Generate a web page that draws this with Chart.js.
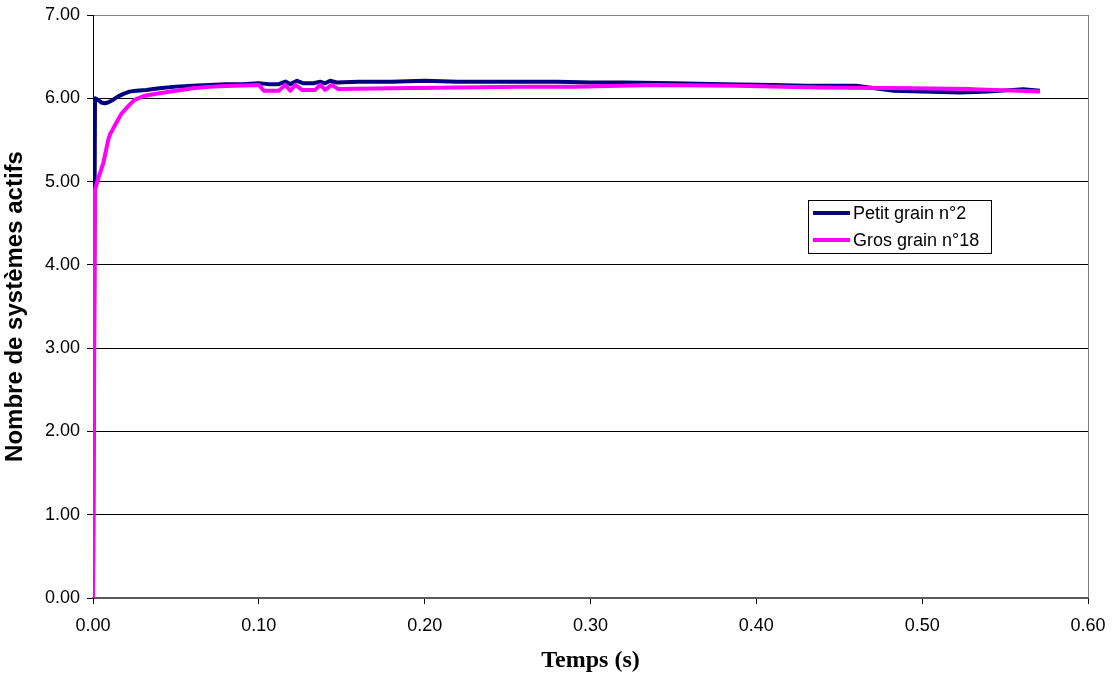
<!DOCTYPE html>
<html>
<head>
<meta charset="utf-8">
<script src="https://cdn.jsdelivr.net/npm/chart.js@4.4.1/dist/chart.umd.min.js"></script>
<style>
    html, body { margin: 0; padding: 0; background: #fff; }
    #wrap { width: 1112px; height: 677px; position: relative; }
</style>
</head>
<body>
<div id="wrap"><canvas id="grainChart"></canvas></div>
<script>
// Temps (s) / nombre de systemes actifs
const petitTemps = [0, 0.0012, 0.003, 0.005, 0.007, 0.009, 0.012, 0.015, 0.018, 0.022, 0.026, 0.032,
    0.04, 0.05, 0.06, 0.07, 0.08, 0.09, 0.1, 0.106, 0.112, 0.116, 0.119, 0.123, 0.127, 0.133,
    0.137, 0.14, 0.143, 0.147, 0.16, 0.18, 0.2, 0.22, 0.25, 0.28, 0.3, 0.32, 0.35, 0.38,
    0.41, 0.43, 0.46, 0.483, 0.5, 0.523, 0.54, 0.561, 0.571];
const petitSystemes = [0, 6.0, 5.98, 5.95, 5.94, 5.95, 5.98, 6.02, 6.05, 6.08, 6.09, 6.10,
    6.12, 6.14, 6.15, 6.16, 6.17, 6.17, 6.18, 6.17, 6.17, 6.20, 6.17, 6.21, 6.18, 6.18,
    6.20, 6.18, 6.21, 6.19, 6.20, 6.20, 6.21, 6.20, 6.20, 6.20, 6.19, 6.19, 6.18, 6.17,
    6.16, 6.15, 6.15, 6.09, 6.08, 6.07, 6.08, 6.11, 6.09];

const grosTemps = [0, 0.0012, 0.0032, 0.0062, 0.0092, 0.0105, 0.0113, 0.0125, 0.0173, 0.022,
    0.025, 0.031, 0.04, 0.05, 0.06, 0.072, 0.085, 0.1, 0.103, 0.112, 0.116, 0.119, 0.122,
    0.126, 0.134, 0.137, 0.14, 0.144, 0.148, 0.18, 0.22, 0.257, 0.29, 0.338, 0.388, 0.438,
    0.493, 0.53, 0.571];
const grosSystemes = [0, 4.9, 5.04, 5.22, 5.5, 5.58, 5.6, 5.65, 5.82, 5.92,
    5.98, 6.03, 6.06, 6.09, 6.12, 6.14, 6.15, 6.16, 6.09, 6.09, 6.16, 6.09, 6.16,
    6.10, 6.10, 6.16, 6.10, 6.16, 6.11, 6.12, 6.13, 6.14, 6.14, 6.16, 6.15, 6.13,
    6.12, 6.11, 6.08];

const seriesNames = ['Petit grain n°2', 'Gros grain n°18'];
const seriesColors = ['#000080', '#FF00FF'];

const tickFont = { family: "'Liberation Sans', Arial, sans-serif", size: 18 };

function toPoints(xs, ys) {
    return xs.map((x, i) => ({ x: x, y: ys[i] }));
}

// legend box drawn inside the plot, like the spreadsheet original
const boxLegend = {
    id: 'boxLegend',
    afterDraw(chart) {
        const c = chart.ctx;
        const x = 808, y = 200, w = 183, h = 53;
        c.save();
        c.fillStyle = '#fff';
        c.fillRect(x, y, w, h);
        c.strokeStyle = '#000';
        c.lineWidth = 1;
        c.strokeRect(x + 0.5, y + 0.5, w, h);
        c.font = "18px 'Liberation Sans', Arial, sans-serif";
        c.textBaseline = 'middle';
        chart.data.datasets.forEach((ds, i) => {
            const ly = y + 13 + i * 27;
            c.strokeStyle = ds.borderColor;
            c.lineWidth = 4;
            c.beginPath();
            c.moveTo(x + 5, ly);
            c.lineTo(x + 42, ly);
            c.stroke();
            c.fillStyle = '#000';
            c.fillText(ds.label, x + 45, ly + 1);
        });
        c.restore();
    }
};

new Chart(document.getElementById('grainChart').getContext('2d'), {
    type: 'line',
    data: {
        datasets: [{
            label: seriesNames[0],
            data: toPoints(petitTemps, petitSystemes),
            borderColor: seriesColors[0],
            backgroundColor: seriesColors[0],
            borderWidth: 4,
            pointRadius: 0,
            tension: 0,
            borderJoinStyle: 'round',
            order: 2
        }, {
            label: seriesNames[1],
            data: toPoints(grosTemps, grosSystemes),
            borderColor: seriesColors[1],
            backgroundColor: seriesColors[1],
            borderWidth: 4,
            pointRadius: 0,
            tension: 0,
            borderJoinStyle: 'round',
            order: 1
        }]
    },
    options: {
        responsive: true,
        maintainAspectRatio: false,
        animation: false,
        layout: { padding: { top: 15, right: 24, left: 0, bottom: 0 } },
        plugins: {
            legend: { display: false },
            tooltip: { enabled: false }
        },
        scales: {
            x: {
                type: 'linear',
                min: 0,
                max: 0.6,
                ticks: {
                    stepSize: 0.1,
                    color: '#000',
                    font: tickFont,
                    padding: 11,
                    maxRotation: 0,
                    callback: (v) => v.toFixed(2)
                },
                grid: {
                    color: (ctx) => Math.abs(ctx.tick.value - 0.6) < 1e-9 ? '#808080' : 'transparent',
                    tickColor: '#000',
                    tickLength: 6
                },
                border: { color: '#595959', width: 2 },
                title: {
                    display: true,
                    text: 'Temps (s)',
                    color: '#000',
                    font: { family: "'Liberation Serif', 'Times New Roman', serif", size: 24, weight: 'bold' },
                    padding: { top: 4, bottom: 2 }
                },
                afterFit: (scale) => {
                    scale.height = 79;
                    scale.paddingLeft = 0;
                    scale.paddingRight = 0;
                }
            },
            y: {
                min: 0,
                max: 7,
                ticks: {
                    stepSize: 1,
                    color: '#000',
                    font: tickFont,
                    padding: 7,
                    callback: (v) => v.toFixed(2)
                },
                grid: {
                    color: (ctx) => (ctx.tick.value === 7 ? '#808080' : (ctx.tick.value === 0 ? 'transparent' : '#000')),
                    tickColor: '#000',
                    tickLength: 6
                },
                border: { color: '#000', width: 1 },
                title: {
                    display: true,
                    text: 'Nombre de systèmes actifs',
                    color: '#000',
                    font: { family: "'Liberation Sans', Arial, sans-serif", size: 24, weight: 'bold' },
                    padding: { top: 1, bottom: 0 }
                },
                afterFit: (scale) => {
                    scale.width = 93;
                    scale.paddingTop = 0;
                    scale.paddingBottom = 0;
                }
            }
        }
    },
    plugins: [boxLegend]
});
</script>
</body>
</html>
